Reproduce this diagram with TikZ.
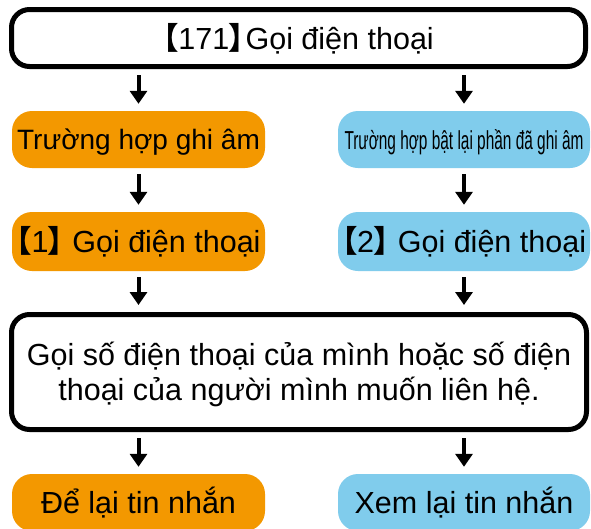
\documentclass[tikz,border=0pt]{standalone}
\usepackage{fontspec}
\setmainfont{Liberation Sans}
\newfontfamily\cjk[RawFeature=+palt]{Noto Sans CJK JP}
\usetikzlibrary{arrows.meta}
\definecolor{orangebox}{RGB}{243,152,0}
\definecolor{bluebox}{RGB}{128,204,236}
\newcommand\lbr{{\cjk\bfseries 【}}
\newcommand\rbr{{\cjk\bfseries 】}}
\begin{document}
\begin{tikzpicture}[x=1pt,y=-1pt,
  txt/.style={font=\fontsize{30.5}{35}\selectfont, text height=22pt, text depth=0pt, inner sep=0pt, align=center},
  outlinebox/.style={txt, draw=black, line width=5pt, rounded corners=18pt, fill=white},
  obox/.style={txt, fill=orangebox, rounded corners=20pt, minimum height=57pt, minimum width=253pt},
  bbox/.style={txt, fill=bluebox, rounded corners=20pt, minimum height=57pt, minimum width=252pt},
  arr/.style={line width=4pt, -{Triangle[width=17pt,length=13pt]}, shorten <=6pt, shorten >=7pt}
]
\useasboundingbox[fill=white] (0,0) rectangle (591,528);
\node[outlinebox, minimum width=574pt, minimum height=57pt] (top) at (298.5,38) {\lbr171\rbr\kern1pt Gọi điện thoại};
\node[obox, font=\fontsize{28}{34}\selectfont, text height=20pt] (o1) at (138.5,139.5) {Trường hợp ghi âm};
\node[bbox, text height=20pt] (b1) at (464,139.5) {\resizebox{239pt}{\height}{\fontsize{26}{30}\selectfont Trường hợp bật lại phần đã ghi âm}};
\node[obox, minimum height=59pt] (o2) at (138.5,241.5) {\lbr1\rbr\ Gọi điện thoại};
\node[bbox, minimum height=59pt] (b2) at (464,241.5) {\lbr2\rbr\ Gọi điện thoại};
\node[outlinebox, minimum width=575pt, minimum height=115pt, text height=57pt, text depth=0pt] (mid) at (299,372) {Gọi số điện thoại của mình hoặc số điện\\thoại của người mình muốn liên hệ.};
\node[obox] (o3) at (138.5,502.5) {Để lại tin nhắn};
\node[bbox] (b3) at (464,502.5) {Xem lại tin nhắn};
\draw[arr] (o1.north |- top.south) -- (o1.north);
\draw[arr] (b1.north |- top.south) -- (b1.north);
\draw[arr] (o1.south) -- (o2.north);
\draw[arr] (b1.south) -- (b2.north);
\draw[arr] (o2.south) -- (o2.south |- mid.north);
\draw[arr] (b2.south) -- (b2.south |- mid.north);
\draw[arr] (o3.north |- mid.south) -- (o3.north);
\draw[arr] (b3.north |- mid.south) -- (b3.north);
\end{tikzpicture}
\end{document}
